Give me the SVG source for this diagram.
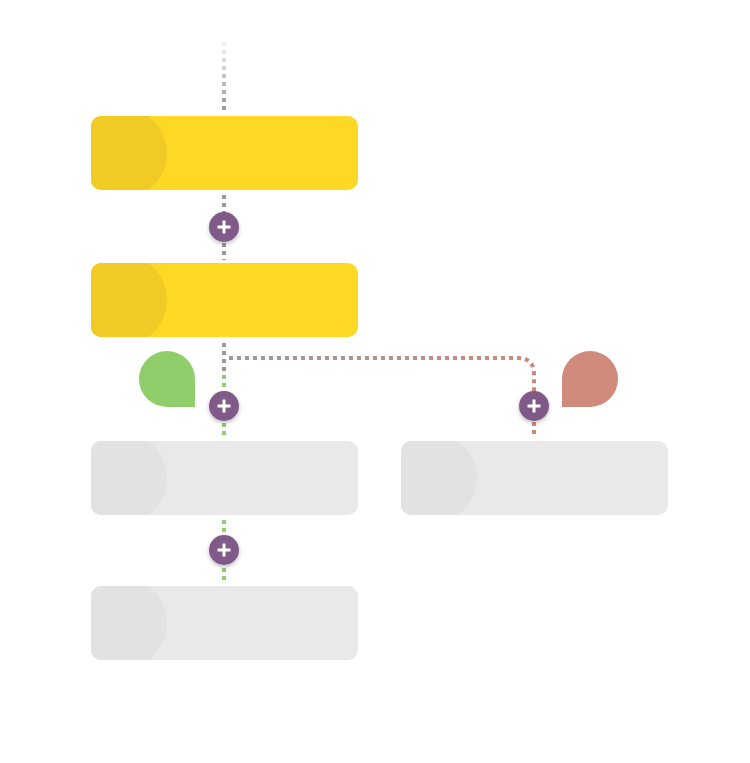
<svg xmlns="http://www.w3.org/2000/svg" width="750" height="763" viewBox="0 0 750 763">
<defs>
<linearGradient id="gTop" gradientUnits="userSpaceOnUse" x1="0" y1="34" x2="0" y2="108"><stop offset="0" stop-color="#ffffff"/><stop offset="1" stop-color="#999999"/></linearGradient>
<linearGradient id="gHor" gradientUnits="userSpaceOnUse" x1="230" y1="0" x2="534" y2="0"><stop offset="0" stop-color="#999999"/><stop offset="1" stop-color="#d0887a"/></linearGradient>
<linearGradient id="gVert" gradientUnits="userSpaceOnUse" x1="0" y1="343" x2="0" y2="436"><stop offset="0" stop-color="#999999"/><stop offset="0.3" stop-color="#999999"/><stop offset="0.33" stop-color="#8fce6a"/><stop offset="1" stop-color="#8fce6a"/></linearGradient>
<clipPath id="c1"><rect x="91" y="116" width="267" height="74" rx="10"/></clipPath>
<clipPath id="c2"><rect x="91" y="263" width="267" height="74" rx="10"/></clipPath>
<clipPath id="c3"><rect x="91" y="441" width="267" height="74" rx="10"/></clipPath>
<clipPath id="c4"><rect x="401" y="441" width="267" height="74" rx="10"/></clipPath>
<clipPath id="c5"><rect x="91" y="586" width="267" height="74" rx="10"/></clipPath>
<filter id="sh" x="-50%" y="-50%" width="200%" height="200%"><feDropShadow dx="0" dy="2" stdDeviation="2" flood-color="#000" flood-opacity="0.25"/></filter>
<g id="plusSym"><circle r="15" fill="#7f5a89" filter="url(#sh)"/><path d="M-6.5 0H6.5M0 -6.5V6.5" stroke="#fff" stroke-width="3"/></g>
</defs>
<style>
.dot{fill:none;stroke-width:4;stroke-dasharray:4 4}
.gray{stroke:#999}
.green{stroke:#8fce6a}
.salmon{stroke:#d0887a}
.yb{fill:#fdd825}.yc{fill:#f0cb25}
.gb{fill:#e9e9e9}.gc{fill:#e2e2e2}
</style>
<g id="connectors">
<line class="dot" x1="224" y1="42" x2="224" y2="110" stroke="url(#gTop)"/>
<line class="dot gray" x1="224" y1="195" x2="224" y2="260"/>
<line class="dot" x1="224" y1="343" x2="224" y2="438" stroke="url(#gVert)"/>
<path class="dot" d="M229 358H518Q534 358 534 374V390" stroke="url(#gHor)"/>
<line class="dot salmon" x1="534" y1="390" x2="534" y2="438"/>
<line class="dot green" x1="224" y1="520" x2="224" y2="582"/>
</g>
<g id="node1"><rect class="yb" x="91" y="116" width="267" height="74" rx="10"/><circle class="yc" cx="121.5" cy="153" r="45.5" clip-path="url(#c1)"/></g>
<g id="node2"><rect class="yb" x="91" y="263" width="267" height="74" rx="10"/><circle class="yc" cx="121.5" cy="300" r="45.5" clip-path="url(#c2)"/></g>
<g id="node3"><rect class="gb" x="91" y="441" width="267" height="74" rx="10"/><circle class="gc" cx="121.5" cy="478" r="45.5" clip-path="url(#c3)"/></g>
<g id="node4"><rect class="gb" x="401" y="441" width="267" height="74" rx="10"/><circle class="gc" cx="431.5" cy="478" r="45.5" clip-path="url(#c4)"/></g>
<g id="node5"><rect class="gb" x="91" y="586" width="267" height="74" rx="10"/><circle class="gc" cx="121.5" cy="623" r="45.5" clip-path="url(#c5)"/></g>
<g id="dropGreen"><path d="M195 407H167A28 28 0 1 1 195 379Z" fill="#8fce6a"/></g>
<g id="dropSalmon"><path d="M562 407V379A28 28 0 1 1 590 407Z" fill="#cf8a7c"/></g>
<g id="plus1"><use href="#plusSym" x="224" y="227"/></g>
<g id="plus2"><use href="#plusSym" x="224" y="406"/></g>
<g id="plus3"><use href="#plusSym" x="534" y="406"/></g>
<g id="plus4"><use href="#plusSym" x="224" y="550"/></g>
</svg>
